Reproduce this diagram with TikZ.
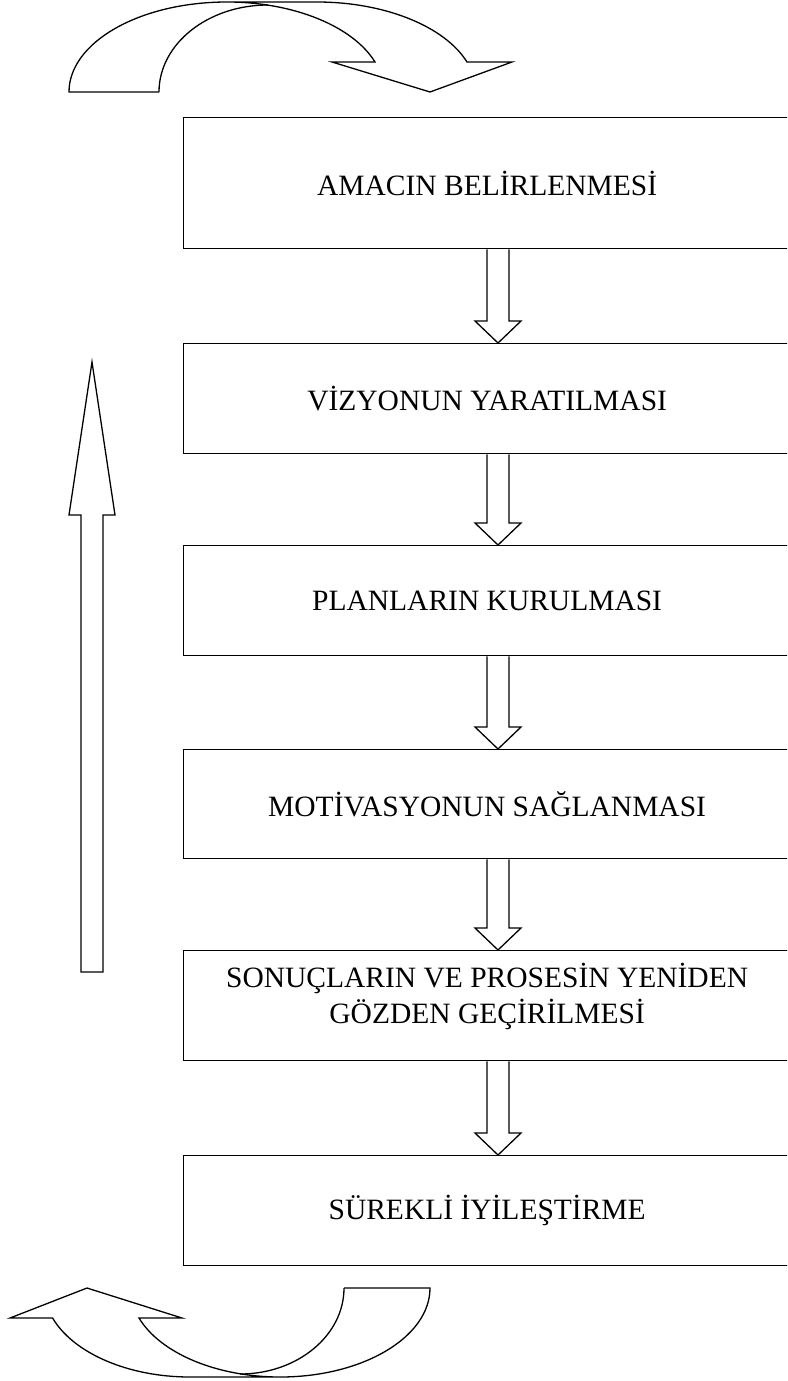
\documentclass[tikz,border=0pt]{standalone}
\usepackage{fontspec}
\setmainfont{Liberation Serif}
\usetikzlibrary{calc}
\begin{document}
\begin{tikzpicture}[x=1pt,y=-1pt,line width=1.3pt,line join=miter,
  boxfont/.style={font=\fontsize{29.5}{35.5}\selectfont},
  box/.style={draw,rectangle,minimum width=607pt,minimum height=#1,inner sep=0pt,
    anchor=north west,align=center,boxfont},
  boxtext/.style={inner sep=0pt,align=center,boxfont},
  outline/.style={draw,line width=1.3pt}]
\useasboundingbox (0,0) rectangle (787,1381);
\clip (0,0) rectangle (787,1381);
% boxes
\node[box=131pt] (b1) at (183,117) {AMACIN BELİRLENMESİ};
\node[box=110pt] (b2) at (183,343) {VİZYONUN YARATILMASI};
\node[box=110pt] (b3) at (183,545) {PLANLARIN KURULMASI};
\node[box=109pt] (b4) at (183,749) {MOTİVASYONUN SAĞLANMASI};
\node[box=110pt] (b5) at (183,950) {};
\node[boxtext] (t5) at ([yshift=9pt]b5.center) {SONUÇLARIN VE PROSESİN YENİDEN\\GÖZDEN GEÇİRİLMESİ};
\node[box=110pt] (b6) at (183,1155) {SÜREKLİ İYİLEŞTİRME};
% down block arrows between boxes
\coordinate (ax) at (498,0);
\foreach \a/\b in {b1/b2,b2/b3,b3/b4,b4/b5,b5/b6}{
  \draw[outline] let \p1=(\a.south -| ax), \p2=(\b.north -| ax) in
    (\x1-11pt,\y1) -- (\x1-11pt,\y2+22pt) -- (\x1-23pt,\y2+22pt) -- (\x2,\y2)
    -- (\x1+23pt,\y2+22pt) -- (\x1+11pt,\y2+22pt) -- (\x1+11pt,\y1);
}
% big up arrow on the left
\draw[outline] (81,972) -- (81,515) -- (69,515) -- (92,362) -- (115,515) -- (103,515) -- (103,972) -- cycle;
% top curved arrow
\draw[outline] (159,92) -- (69,92) .. controls (69,42.3) and (139.8,2) .. (227,2)
  -- (317,2) .. controls (384.3,2) and (444.6,26.1) .. (467,62)
  -- (512,62) -- (430,92) -- (332,62) -- (375,62)
  .. controls (352.9,26.1) and (293.4,2) .. (227,2);
\draw[outline] (159,92) .. controls (159,44) and (207.8,5) .. (268,5);
% bottom curved arrow
\draw[outline] (344,1288) -- (430,1288) .. controls (430,1337.1) and (362.8,1377) .. (280,1377)
  -- (190,1377) .. controls (128.4,1377) and (73.4,1353.3) .. (52.6,1318)
  -- (10,1318) -- (87,1288) -- (182,1318) -- (139,1318)
  .. controls (160.3,1353.3) and (216.7,1377) .. (280,1377);
\draw[outline] (344,1288) .. controls (344,1335.5) and (297.4,1374) .. (240,1374);
\end{tikzpicture}
\end{document}
